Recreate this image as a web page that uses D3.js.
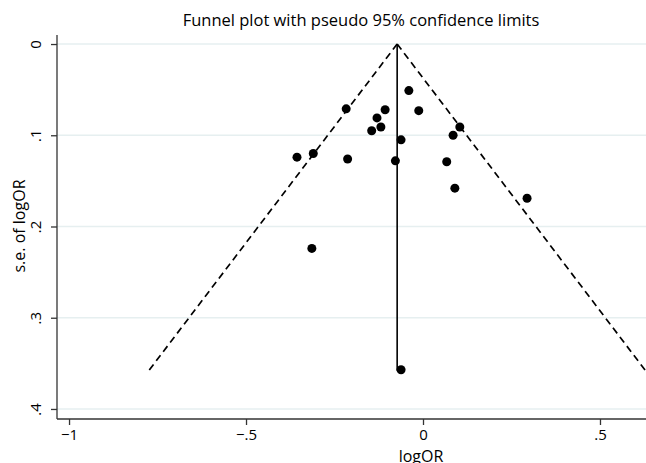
<!DOCTYPE html>
<html>
<head>
<meta charset="utf-8">
<style>
  body { margin: 0; background: #fff; }
  svg text { font-family: "Open Sans", Lato, sans-serif; fill: #000; }
</style>
</head>
<body>
<div id="chart"></div>
<script src="https://cdn.jsdelivr.net/npm/d3@7/dist/d3.min.js"></script>
<script>
// study estimates
var logOR = [-0.040, -0.217, -0.107, -0.012, -0.130, -0.119, -0.145, 0.085, 0.104,
             -0.062, -0.356, -0.310, -0.213, -0.078, 0.067, 0.090, 0.294, -0.314, -0.062];
var seLogOR = [0.051, 0.071, 0.072, 0.073, 0.081, 0.091, 0.095, 0.100, 0.091,
               0.105, 0.124, 0.120, 0.126, 0.128, 0.129, 0.158, 0.169, 0.224, 0.357];
var pooled = -0.073;
var seMax = 0.358;
var xTicks = [-1, -0.5, 0, 0.5];
var yTicks = [0, 0.1, 0.2, 0.3, 0.4];

var W = 646, H = 463;
var plotL = 57, plotR = 646, plotT = 35, plotB = 419;

var svg = d3.select('#chart').append('svg')
  .attr('width', W).attr('height', H);

var x = d3.scaleLinear().domain([-1.034, 0.630]).range([plotL, plotR]);
var y = d3.scaleLinear().domain([-0.0099, 0.411]).range([plotT, plotB]);

function fmt(v) {
  if (v === 0) return '0';
  var s = String(Math.abs(v)).replace(/^0/, '');
  return (v < 0 ? '\u2212' : '') + s;
}

// gridlines
svg.append('g').selectAll('line')
  .data(yTicks).enter().append('line')
  .attr('x1', plotL).attr('x2', plotR)
  .attr('y1', function(d){ return y(d); })
  .attr('y2', function(d){ return y(d); })
  .attr('stroke', '#e6eff0').attr('stroke-width', 1.5);

// pseudo 95% limits
var g = svg.append('g');
var z = 1.96;
g.append('line')
  .attr('x1', x(pooled)).attr('y1', y(0))
  .attr('x2', x(pooled - z * seMax)).attr('y2', y(seMax))
  .attr('stroke', '#000').attr('stroke-width', 1.7).attr('stroke-dasharray', '7,4.5');
g.append('line')
  .attr('x1', x(pooled)).attr('y1', y(0))
  .attr('x2', x(pooled + z * seMax)).attr('y2', y(seMax))
  .attr('stroke', '#000').attr('stroke-width', 1.7).attr('stroke-dasharray', '7,4.5');
g.append('line')
  .attr('x1', x(pooled)).attr('y1', y(0))
  .attr('x2', x(pooled)).attr('y2', y(seMax))
  .attr('stroke', '#000').attr('stroke-width', 1.6);

// studies
svg.append('g').selectAll('circle')
  .data(logOR).enter().append('circle')
  .attr('cx', function(d){ return x(d); })
  .attr('cy', function(d, i){ return y(seLogOR[i]); })
  .attr('r', 4.5)
  .attr('fill', '#000');

// axes
var xAxis = svg.append('g')
  .attr('transform', 'translate(0,' + plotB + ')')
  .call(d3.axisBottom(x).tickValues(xTicks).tickFormat(fmt).tickSize(6).tickPadding(4));
var yAxis = svg.append('g')
  .attr('transform', 'translate(' + plotL + ',0)')
  .call(d3.axisLeft(y).tickValues(yTicks).tickFormat(fmt).tickSize(6).tickPadding(3));

[xAxis, yAxis].forEach(function(a){
  a.select('.domain').attr('stroke', '#333').attr('stroke-width', 1.3);
  a.selectAll('.tick line').attr('stroke', '#333').attr('stroke-width', 1.3);
  a.selectAll('.tick text').style('font-size', '15px').attr('fill', '#000');
});
xAxis.select('.domain').attr('d', 'M' + plotL + ',0H' + plotR);
yAxis.select('.domain').attr('d', 'M0,' + plotT + 'V' + plotB);

// rotated y tick labels
yAxis.selectAll('.tick text')
  .attr('text-anchor', 'middle')
  .attr('x', 0).attr('dy', 0)
  .attr('transform', 'translate(-16,0) rotate(-90)');

// titles
svg.append('text')
  .attr('x', 361).attr('y', 26)
  .attr('text-anchor', 'middle')
  .style('font-size', '16.5px')
  .text('Funnel plot with pseudo 95% confidence limits');
svg.append('text')
  .attr('x', 421).attr('y', 462)
  .attr('text-anchor', 'middle')
  .style('font-size', '16px')
  .text('logOR');
svg.append('text')
  .attr('transform', 'translate(25,' + 226 + ') rotate(-90)')
  .attr('text-anchor', 'middle')
  .style('font-size', '16px')
  .text('s.e. of logOR');
</script>
</body>
</html>
